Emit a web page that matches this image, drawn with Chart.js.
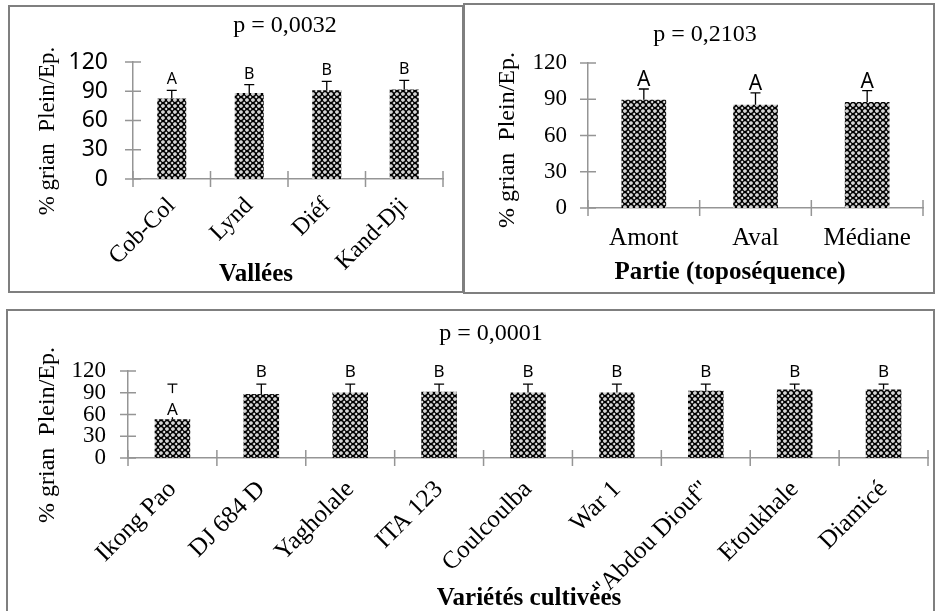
<!DOCTYPE html>
<html lang="fr">
<head>
<meta charset="UTF-8">
<title>% grain plein par épi</title>
<script src="https://cdn.jsdelivr.net/npm/chart.js"></script>
<style>
  html, body { margin: 0; padding: 0; background: #fff; overflow: hidden; }
  body { width: 940px; height: 611px; position: relative; }
  .frame { position: absolute; border: 2px solid #7f7f7f; box-sizing: border-box; }
  .box { position: absolute; }
</style>
</head>
<body>
<div class="frame" style="left:8px;top:5px;width:456px;height:288px"></div>
<div class="frame" style="left:463px;top:3px;width:472px;height:291px"></div>
<div class="frame" style="left:6px;top:309px;width:929px;height:320px"></div>

<div class="box" style="left:10px;top:7px;width:452px;height:284px"><canvas id="valleeChart"></canvas></div>
<div class="box" style="left:466px;top:6px;width:466px;height:286px"><canvas id="partieChart"></canvas></div>
<div class="box" style="left:8px;top:312px;width:925px;height:310px"><canvas id="varieteChart"></canvas></div>

<script>
// data
const yTicks = [0, 30, 60, 90, 120];

const valleeNames   = ['Cob-Col', 'Lynd', 'Diéf', 'Kand-Dji'];
const valleeMeans   = [82.5, 88.3, 91.0, 91.7];
const valleeErrors  = [8.5, 8.5, 9.2, 9.5];
const valleeLetters = ['A', 'B', 'B', 'B'];

const partieNames   = ['Amont', 'Aval', 'Médiane'];
const partieMeans   = [89.6, 85.5, 87.7];
const partieErrors  = [8.9, 9.7, 9.4];
const partieLetters = ['A', 'A', 'A'];

const varieteNames   = ['Ikong Pao', 'DJ 684 D', 'Yagholale', 'ITA 123', 'Coulcoulba', 'War 1', '"Abdou Diouf"', 'Etoukhale', 'Diamicé'];
const varieteMeans   = [53.5, 88.2, 90.5, 91.4, 90.5, 90.5, 92.8, 94.6, 94.6];
const varieteErrors  = [48.5, 13.8, 11.5, 10.6, 11.5, 11.5, 9.2, 7.4, 7.4];
const varieteLetters = ['A', 'B', 'B', 'B', 'B', 'B', 'B', 'B', 'B'];

const serif = '"Liberation Serif", "Times New Roman", serif';
const sans = '"Noto Sans", "DejaVu Sans", sans-serif';
const axisGrey = '#959595';

// little circle lattice like the excel fill
function dotPattern(canvas) {
  const tile = document.createElement('canvas');
  tile.width = 6; tile.height = 6;
  const g = tile.getContext('2d');
  g.fillStyle = '#fff';
  g.fillRect(0, 0, 6, 6);
  g.strokeStyle = '#000';
  g.lineWidth = 1.4;
  g.beginPath();
  g.arc(3, 3, 2.5, 0, Math.PI * 2);
  g.stroke();
  g.fillStyle = '#555';
  g.fillRect(2.5, 2.5, 1, 1);
  return canvas.getContext('2d').createPattern(tile, 'repeat');
}

// error bars + letters of the test
const errorBars = {
  id: 'errorBars',
  afterDatasetsDraw(chart, args, o) {
    const ctx = chart.ctx, y = chart.scales.y;
    const ds = chart.data.datasets[0];
    const meta = chart.getDatasetMeta(0);
    ctx.save();
    meta.data.forEach((bar, i) => {
      const base = y.getPixelForValue(ds.data[i]);
      const top = y.getPixelForValue(ds.data[i] + ds.errors[i]);
      ctx.strokeStyle = '#000';
      ctx.lineWidth = 1.3;
      ctx.beginPath();
      ctx.moveTo(bar.x, base);
      ctx.lineTo(bar.x, top);
      ctx.moveTo(bar.x - 5, top);
      ctx.lineTo(bar.x + 5, top);
      ctx.stroke();

      ctx.font = o.letterSize + 'px ' + sans;
      ctx.textAlign = 'center';
      ctx.textBaseline = 'alphabetic';
      let ly = top - o.gap;
      if (o.low && o.low.includes(i)) {
        // label sits under the cap, on a white box like excel
        ly = base - 4;
        const w = ctx.measureText(ds.letters[i]).width + 4;
        const h = o.letterSize * 1.3;
        ctx.fillStyle = '#fff';
        ctx.fillRect(bar.x - w / 2, ly - h, w, h + 2);
      }
      ctx.fillStyle = '#000';
      ctx.fillText(ds.letters[i], bar.x, ly);
    });
    ctx.restore();
  }
};

// excel style cross tick marks
const crossTicks = {
  id: 'crossTicks',
  afterDraw(chart) {
    const {ctx, scales: {x, y}} = chart;
    ctx.save();
    ctx.strokeStyle = axisGrey;
    ctx.lineWidth = 1.5;
    ctx.beginPath();
    y.ticks.forEach(t => {
      const py = y.getPixelForValue(t.value);
      ctx.moveTo(x.left - 8, py);
      ctx.lineTo(x.left + 8, py);
    });
    const step = x.getPixelForValue(1) - x.getPixelForValue(0);
    const first = x.getPixelForValue(0) - step / 2;
    for (let k = 0; k <= x.ticks.length; k++) {
      const px = first + k * step;
      ctx.moveTo(px, y.bottom - 8);
      ctx.lineTo(px, y.bottom + 8);
    }
    ctx.stroke();
    ctx.restore();
  }
};

// p value, axis titles
const frameText = {
  id: 'frameText',
  afterDraw(chart, args, o) {
    const ctx = chart.ctx;
    ctx.save();
    ctx.fillStyle = '#000';
    ctx.textAlign = 'center';
    ctx.textBaseline = 'middle';
    ctx.font = o.titleSize + 'px ' + serif;
    ctx.fillText(o.title, o.titleX, o.titleY);
    ctx.font = 'bold ' + o.xTitleSize + 'px ' + serif;
    ctx.fillText(o.xTitle, o.xTitleX, o.xTitleY);
    ctx.translate(o.yTitleX, o.yTitleY);
    ctx.rotate(-Math.PI / 2);
    ctx.font = o.yTitleSize + 'px ' + serif;
    ctx.fillText('% grian  Plein/Ep.', 0, 0);
    ctx.restore();
  }
};

function barChart(id, names, means, errors, letters, c) {
  const canvas = document.getElementById(id);
  return new Chart(canvas, {
    type: 'bar',
    data: {
      labels: names,
      datasets: [{
        data: means,
        errors: errors,
        letters: letters,
        backgroundColor: dotPattern(canvas),
        borderWidth: 0,
        categoryPercentage: 1,
        barPercentage: c.barPct
      }]
    },
    options: {
      responsive: true,
      maintainAspectRatio: false,
      animation: false,
      layout: { padding: { left: 0, right: c.padRight, top: c.padTop, bottom: 0 } },
      scales: {
        x: {
          offset: true,
          grid: { display: false, drawTicks: false },
          border: { display: true, color: axisGrey, width: 1.5 },
          ticks: {
            color: '#000',
            font: { family: serif, size: c.xFont },
            minRotation: c.rot, maxRotation: c.rot,
            autoSkip: false,
            padding: c.xPad
          },
          afterFit: s => { s.height = c.xHeight; }
        },
        y: {
          min: 0, max: 120,
          afterBuildTicks: s => { s.ticks = yTicks.map(v => ({ value: v })); },
          grid: { display: false, drawTicks: false },
          border: { display: true, color: axisGrey, width: 1.5 },
          ticks: {
            color: '#000',
            font: { family: c.yFamily, size: c.yFont },
            autoSkip: false,
            padding: c.yPad
          },
          afterFit: s => { s.width = c.yWidth; }
        }
      },
      plugins: {
        legend: { display: false },
        tooltip: { enabled: false },
        errorBars: c.bars,
        frameText: c.text
      }
    },
    plugins: [errorBars, crossTicks, frameText]
  });
}

barChart('valleeChart', valleeNames, valleeMeans, valleeErrors, valleeLetters, {
  barPct: 0.375, padRight: 19, padTop: 55, xHeight: 112, yWidth: 123,
  xFont: 24, rot: 45, xPad: 13, yFamily: sans, yFont: 23, yPad: 25,
  bars: { letterSize: 16, gap: 6 },
  text: { title: 'p = 0,0032', titleSize: 24, titleX: 275, titleY: 19,
          xTitle: 'Vallées', xTitleSize: 25, xTitleX: 246, xTitleY: 268,
          yTitleSize: 23, yTitleX: 38, yTitleY: 124 }
});

barChart('partieChart', partieNames, partieMeans, partieErrors, partieLetters, {
  barPct: 0.4, padRight: 9, padTop: 57, xHeight: 84, yWidth: 122,
  xFont: 25, rot: 0, xPad: 15, yFamily: serif, yFont: 23, yPad: 21,
  bars: { letterSize: 21, gap: 3 },
  text: { title: 'p = 0,2103', titleSize: 24, titleX: 239, titleY: 29,
          xTitle: 'Partie (toposéquence)', xTitleSize: 25, xTitleX: 264, xTitleY: 267,
          yTitleSize: 24, yTitleX: 42, yTitleY: 134 }
});

barChart('varieteChart', varieteNames, varieteMeans, varieteErrors, varieteLetters, {
  barPct: 0.4, padRight: 5, padTop: 59, xHeight: 164, yWidth: 120,
  xFont: 25, rot: 45, xPad: 17, yFamily: serif, yFont: 23, yPad: 22,
  bars: { letterSize: 17, gap: 7, low: [0] },
  text: { title: 'p = 0,0001', titleSize: 24, titleX: 483, titleY: 22,
          xTitle: 'Variétés cultivées', xTitleSize: 25, xTitleX: 521, xTitleY: 287,
          yTitleSize: 24, yTitleX: 40, yTitleY: 123 }
});
</script>
</body>
</html>
